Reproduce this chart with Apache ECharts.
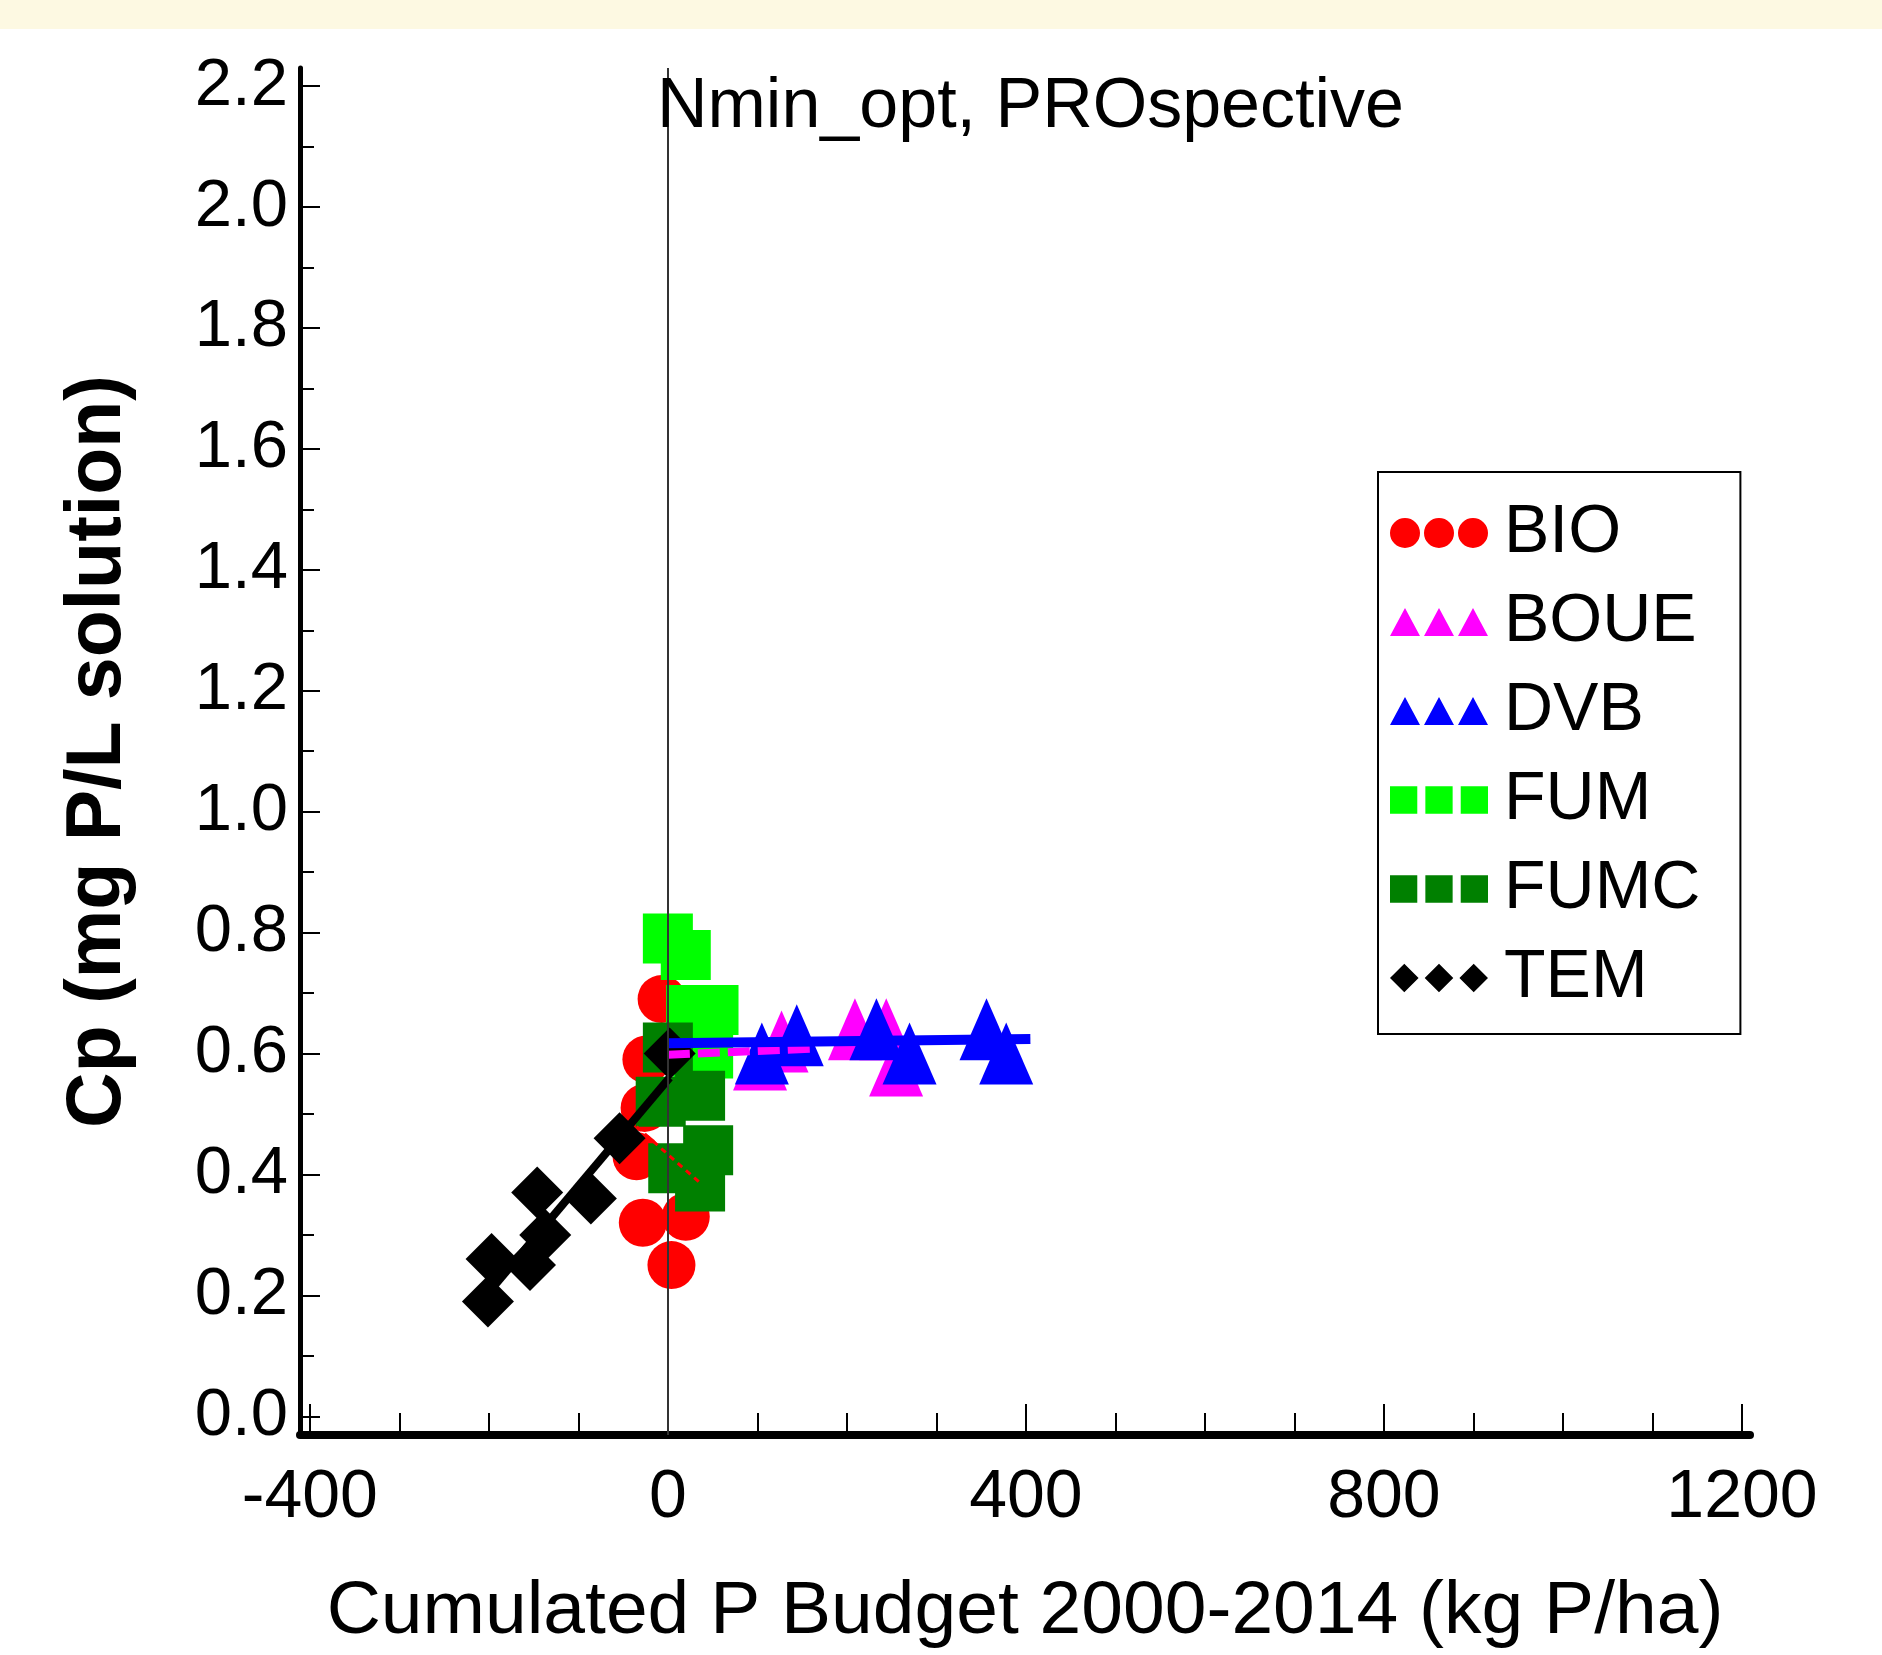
<!DOCTYPE html>
<html>
<head>
<meta charset="utf-8">
<script src="https://cdn.jsdelivr.net/npm/echarts@6/dist/echarts.min.js"></script>
<style>
html,body{margin:0;padding:0;background:#fff;}
#band{position:absolute;left:0;top:0;width:1882px;height:29px;background:#fdf9e2;z-index:5;}
#chart{position:absolute;left:0;top:0;width:1882px;height:1655px;}
</style>
</head>
<body>
<div id="chart"></div>
<div id="band"></div>
<script>
// ---- data ----
const TITLE = 'Nmin_opt, PROspective';
const X_NAME = 'Cumulated P Budget 2000-2014 (kg P/ha)';
const Y_NAME = 'Cp (mg P/L solution)';
const X_LABELS = [-400, 0, 400, 800, 1200];
const X_MINOR = [-300, -200, -100, 100, 200, 300, 500, 600, 700, 900, 1000, 1100];
const Y_LABELS = [0, 0.2, 0.4, 0.6, 0.8, 1.0, 1.2, 1.4, 1.6, 1.8, 2.0, 2.2];
const Y_MINOR = [0.1, 0.3, 0.5, 0.7, 0.9, 1.1, 1.3, 1.5, 1.7, 1.9, 2.1];

const BIO  = [[-7,0.69],[-24,0.59],[-26,0.51],[-35,0.43],[-28,0.32],[4,0.25],[20,0.33]];
const BOUE = [[103,0.59],[127,0.62],[209,0.64],[244,0.64],[255,0.58]];
const DVB  = [[105,0.60],[144,0.63],[233,0.64],[270,0.60],[356,0.64],[378,0.60]];
const FUM  = [[0,0.79],[20,0.763],[26,0.672],[51,0.672],[45,0.60],[34,0.54]];
const FUMC = [[0,0.61],[-8,0.52],[36,0.53],[45,0.44],[6,0.41],[36,0.38]];
const TEM  = [[-201,0.19],[-197,0.26],[-154,0.25],[-137,0.30],[-146,0.37],[-86,0.36],[-54,0.46],[2,0.60]];

const BIO_FIT  = [[-35,0.479],[36,0.386]];
const BOUE_FIT = [[0,0.598],[160,0.608]];
const DVB_FIT  = [[0,0.617],[405,0.624]];
const TEM_FIT  = [[-203,0.20],[2,0.56]];

// ---- legend icons (three symbols each) ----
const ICON_CIRCLES = 'path://M0,15a15,15 0 1,0 30,0a15,15 0 1,0 -30,0Z M34,15a15,15 0 1,0 30,0a15,15 0 1,0 -30,0Z M68,15a15,15 0 1,0 30,0a15,15 0 1,0 -30,0Z';
const ICON_TRI = 'path://M15,1L30,29L0,29Z M49,1L64,29L34,29Z M83,1L98,29L68,29Z';
const ICON_SQ = 'path://M1,2H28V29H1Z M36,2H63V29H36Z M71,2H98V29H71Z';
const ICON_DIA = 'path://M15,1L29,15L15,29L1,15Z M49,1L63,15L49,29L35,15Z M83,1L97,15L83,29L69,15Z';

const FONT = "'Liberation Sans', Arial, sans-serif";
const chart = echarts.init(document.getElementById('chart'));

function pts(name, data, color, symbol, size) {
  return {
    name: name, type: 'scatter', data: data, z: 3,
    symbol: symbol, symbolSize: size,
    itemStyle: { color: color, opacity: 1 },
    emphasis: { disabled: true }
  };
}
function fit(name, data, color, width, type) {
  return {
    name: name, type: 'line', data: data, z: 4,
    symbol: 'none', silent: true,
    lineStyle: { color: color, width: width, type: type },
    emphasis: { disabled: true }
  };
}

const option = {
  animation: false,
  backgroundColor: '#ffffff',
  title: {
    text: TITLE, left: 652, top: 68,
    textStyle: { fontFamily: FONT, fontSize: 70, fontWeight: 'normal', color: '#000' }
  },
  grid: { left: 300, right: 132, top: 68, bottom: 217, containLabel: false },
  legend: {
    orient: 'vertical', left: 1378, top: 472,
    padding: [27, 40, 22, 12], itemGap: 21,
    itemWidth: 98, itemHeight: 30,
    borderColor: '#000', borderWidth: 2, backgroundColor: '#fff',
    textStyle: { fontFamily: FONT, fontSize: 68, color: '#000', padding: [0, 0, 0, 11] },
    data: [
      { name: 'BIO', icon: ICON_CIRCLES },
      { name: 'BOUE', icon: ICON_TRI },
      { name: 'DVB', icon: ICON_TRI },
      { name: 'FUM', icon: ICON_SQ },
      { name: 'FUMC', icon: ICON_SQ },
      { name: 'TEM', icon: ICON_DIA }
    ],
    selectedMode: false
  },
  xAxis: [
    {
      type: 'value', min: -411, max: 1209, position: 'bottom',
      name: X_NAME, nameLocation: 'middle', nameGap: 140,
      nameTextStyle: { fontFamily: FONT, fontSize: 75, color: '#000' },
      axisLine: { show: true, onZero: false, lineStyle: { color: '#000', width: 8 } },
      axisTick: { show: true, inside: true, length: 22, customValues: X_MINOR, lineStyle: { color: '#000', width: 2 } },
      axisLabel: { show: true, customValues: X_LABELS, fontFamily: FONT, fontSize: 68, color: '#000', margin: 29,
                   formatter: function (v) { return String(v); } },
      splitLine: { show: false }
    },
    {
      type: 'value', min: -411, max: 1209, position: 'bottom',
      axisLine: { show: false, onZero: false },
      axisTick: { show: true, inside: true, length: 31, customValues: X_LABELS, lineStyle: { color: '#000', width: 2 } },
      axisLabel: { show: false },
      splitLine: { show: false }
    }
  ],
  yAxis: [
    {
      type: 'value', min: -0.031, max: 2.23, position: 'left',
      name: Y_NAME, nameLocation: 'middle', nameGap: 163, nameRotate: 90,
      nameTextStyle: { fontFamily: FONT, fontSize: 77, fontWeight: 'bold', color: '#000' },
      axisLine: { show: true, onZero: false, lineStyle: { color: '#000', width: 5 } },
      axisTick: { show: true, inside: true, length: 14, customValues: Y_MINOR, lineStyle: { color: '#000', width: 2 } },
      axisLabel: { show: true, customValues: Y_LABELS, fontFamily: FONT, fontSize: 67, color: '#000', margin: 12,
                   formatter: function (v) { return v.toFixed(1); } },
      splitLine: { show: false }
    },
    {
      type: 'value', min: -0.031, max: 2.23, position: 'left',
      axisLine: { show: false, onZero: false },
      axisTick: { show: true, inside: true, length: 20, customValues: Y_LABELS, lineStyle: { color: '#000', width: 2 } },
      axisLabel: { show: false },
      splitLine: { show: false }
    }
  ],
  series: [
    {
      name: 'zero', type: 'line', data: [], z: 1, silent: true,
      markLine: {
        silent: true, symbol: ['none', 'none'], label: { show: false },
        lineStyle: { color: '#333', width: 2, type: 'solid' },
        data: [{ xAxis: 0 }]
      }
    },
    pts('BIO', BIO, '#ff0000', 'circle', 48),
    pts('BOUE', BOUE, '#ff00ff', 'triangle', [54, 62]),
    pts('DVB', DVB, '#0000ff', 'triangle', [54, 62]),
    pts('FUM', FUM, '#00ff00', 'rect', 50),
    pts('FUMC', FUMC, '#008000', 'rect', 50),
    pts('TEM', TEM, '#000000', 'diamond', 52),
    fit('BIO fit', BIO_FIT, '#ff0000', 3, [6, 5]),
    fit('BOUE fit', BOUE_FIT, '#ff00ff', 8, [22, 8]),
    fit('DVB fit', DVB_FIT, '#0000ff', 10, 'solid'),
    fit('TEM fit', TEM_FIT, '#000000', 8, 'solid')
  ]
};
chart.setOption(option);
</script>
</body>
</html>
